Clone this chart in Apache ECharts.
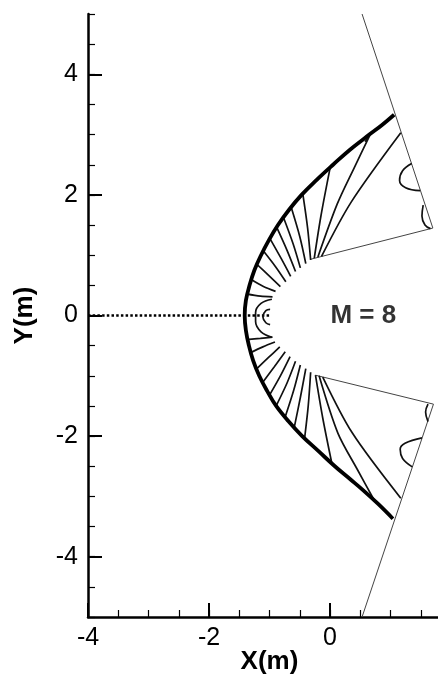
<!DOCTYPE html>
<html><head><meta charset="utf-8">
<script src="https://cdn.jsdelivr.net/npm/echarts@6/dist/echarts.min.js"></script>
<style>html,body{margin:0;padding:0;background:#fff}#c{width:438px;height:676px}</style>
</head><body><div id="c"></div>
<script>
// Axis ranges / ticks
const xRange = [-4, 2];
const yRange = [-5, 5];
const yMajorRange = [-4, 4];
const minorStep = 0.5;
const majorStep = 2;

// Stagnation line (dotted)
const stagnationLine = [[-4, 0], [-0.99, 0]];

// Bow shock (thick)
const shockFront = [[1.06,3.33],[0.86,3.16],[0.65,3.0],[0.33,2.75],[0.05,2.5],[-0.22,2.25],[-0.47,2.0],[-0.68,1.75],[-0.86,1.5],[-1.01,1.25],[-1.14,1.0],[-1.25,0.75],[-1.33,0.5],[-1.39,0.25],[-1.41,0],
  [-1.39,-0.25],[-1.34,-0.5],[-1.27,-0.75],[-1.17,-1.0],[-1.04,-1.25],[-0.89,-1.5],[-0.69,-1.75],[-0.46,-2.0],[-0.19,-2.25],[0.08,-2.5],[0.34,-2.72],[0.55,-2.9],[0.80,-3.13],[1.04,-3.37]];

// Thin domain boundaries
const coneUpper = [[-0.33,0.93],[1.70,1.45]];
const outflowUpper = [[0.53,5.0],[1.70,1.45]];
const coneLower = [[-0.24,-0.99],[1.71,-1.47]];
const outflowLower = [[1.71,-1.47],[0.53,-5.0]];

// Contour lines near the nose
const stagD = [[-0.99,0.10],[-1.06,0.08],[-1.11,-0.02],[-1.06,-0.12],[-0.99,-0.15]];
const stagC = [[-0.96,0.27],[-1.14,0.20],[-1.23,0.05],[-1.23,-0.10],[-1.14,-0.27],[-0.96,-0.36]];

// Upper contour lines (body -> shock)
const contoursUpper = [
  [[-0.95,0.31],[-1.15,0.32],[-1.38,0.36]],
  [[-0.90,0.40],[-1.10,0.48],[-1.31,0.60]],
  [[-0.82,0.48],[-1.01,0.66],[-1.21,0.85]],
  [[-0.73,0.56],[-0.90,0.81],[-1.10,1.07]],
  [[-0.65,0.65],[-0.81,0.95],[-0.99,1.27]],
  [[-0.57,0.73],[-0.71,1.08],[-0.88,1.46]],
  [[-0.49,0.79],[-0.61,1.19],[-0.77,1.63]],
  [[-0.40,0.86],[-0.50,1.31],[-0.64,1.79]],
  [[-0.32,0.92],[-0.37,1.45],[-0.45,2.02]],
  [[-0.26,0.95],[-0.15,1.65],[0.00,2.44]],
  [[-0.20,0.97],[0.12,1.85],[0.40,2.45],[0.66,2.99],[0.58,2.88]],
  [[-0.14,0.98],[0.35,1.88],[1.17,3.03]]
];
// Lower contour lines (body -> shock)
const contoursLower = [
  [[-0.95,-0.36],[-1.15,-0.38],[-1.38,-0.40]],
  [[-0.91,-0.44],[-1.11,-0.52],[-1.32,-0.62]],
  [[-0.83,-0.52],[-1.02,-0.70],[-1.23,-0.90]],
  [[-0.74,-0.60],[-0.92,-0.85],[-1.12,-1.12]],
  [[-0.66,-0.68],[-0.82,-1.00],[-1.00,-1.32]],
  [[-0.57,-0.76],[-0.71,-1.12],[-0.89,-1.50]],
  [[-0.49,-0.82],[-0.60,-1.24],[-0.74,-1.68]],
  [[-0.40,-0.88],[-0.49,-1.36],[-0.59,-1.85]],
  [[-0.32,-0.94],[-0.36,-1.50],[-0.42,-2.04]],
  [[-0.24,-0.99],[-0.12,-1.70],[0.03,-2.45]],
  [[-0.18,-1.00],[0.13,-1.95],[0.45,-2.55],[0.74,-3.08],[0.64,-2.98]],
  [[-0.12,-1.02],[0.37,-1.95],[1.17,-3.03]]
];
// Small contours near outflow boundary
const bumpUpper = [[1.49,2.07],[1.25,2.12],[1.15,2.24],[1.20,2.40],[1.35,2.52]];
const loopUpper = [[1.54,1.83],[1.52,1.65],[1.57,1.50],[1.66,1.44]];
const bumpLower = [[1.52,-2.03],[1.24,-2.12],[1.16,-2.22],[1.20,-2.37],[1.36,-2.51]];
const loopLower = [[1.62,-1.47],[1.58,-1.60],[1.62,-1.76]];

// Annotation
const annotation = [{ name: 'M = 8', value: [0.55, 0] }];

const FONT = 'Liberation Sans';
const chart = echarts.init(document.getElementById('c'), null, { renderer: 'canvas' });

function lineSeries(data, width, color, extra) {
  return Object.assign({
    type: 'line', xAxisIndex: 0, yAxisIndex: 0, data: data,
    showSymbol: false, symbol: 'none', silent: true, animation: false,
    lineStyle: { color: color, width: width }, z: 3
  }, extra || {});
}

const series = [];
series.push(lineSeries(stagnationLine, 2.5, '#000', { lineStyle: { color: '#000', width: 2.5, type: [2.5, 2.2] } }));
[coneUpper, outflowUpper, coneLower, outflowLower].forEach(d => series.push(lineSeries(d, 1, '#444')));
[stagD, stagC].forEach(d => series.push(lineSeries(d, 1.7, '#111', { smooth: 0.4 })));
contoursUpper.concat(contoursLower).forEach(d => series.push(lineSeries(d, 1.7, '#111', { smooth: 0.3 })));
[bumpUpper, loopUpper, bumpLower, loopLower].forEach(d => series.push(lineSeries(d, 1.7, '#111', { smooth: 0.4 })));
series.push(lineSeries(shockFront, 3.8, '#000', { smooth: 0.4, z: 4 }));
series.push({
  type: 'scatter', xAxisIndex: 0, yAxisIndex: 0, data: annotation, symbolSize: 0, silent: true,
  label: { show: true, position: 'inside', formatter: '{b}', color: '#000', fontSize: 26, fontWeight: 'bold', fontFamily: FONT }
});

const axisCommon = {
  type: 'value', splitLine: { show: false },
};

chart.setOption({
  animation: false,
  backgroundColor: '#fff',
  grid: [
    { left: 88, right: -13, top: 14, bottom: 59, outerBoundsMode: 'none', containLabel: false },
    { left: 88, right: -13, top: 74.3, bottom: 119.3, outerBoundsMode: 'none', containLabel: false }
  ],
  xAxis: [
    Object.assign({}, axisCommon, {
      gridIndex: 0, min: xRange[0], max: xRange[1], interval: minorStep, position: 'bottom',
      axisLine: { onZero: false, lineStyle: { color: '#000', width: 2.5 } },
      axisTick: { inside: true, length: 7, lineStyle: { color: '#000', width: 1.2 } },
      axisLabel: { show: false },
      name: 'X(m)', nameLocation: 'middle', nameGap: 32,
      nameTextStyle: { color: '#000', fontSize: 26, fontWeight: 'bold', fontFamily: FONT }
    }),
    Object.assign({}, axisCommon, {
      gridIndex: 0, min: xRange[0], max: xRange[1], interval: majorStep, position: 'bottom',
      axisLine: { show: false, onZero: false },
      axisTick: { inside: true, length: 14, lineStyle: { color: '#000', width: 2 } },
      axisLabel: { color: '#000', fontSize: 25, fontFamily: FONT, margin: 9, showMaxLabel: false }
    }),
    Object.assign({}, axisCommon, { gridIndex: 1, min: xRange[0], max: xRange[1], show: false })
  ],
  yAxis: [
    Object.assign({}, axisCommon, {
      gridIndex: 0, min: yRange[0], max: yRange[1], interval: minorStep, position: 'left',
      axisLine: { onZero: false, lineStyle: { color: '#000', width: 2.5 } },
      axisTick: { inside: true, length: 7, lineStyle: { color: '#000', width: 1.2 } },
      axisLabel: { show: false },
      name: 'Y(m)', nameLocation: 'middle', nameGap: 50, nameRotate: 90,
      nameTextStyle: { color: '#000', fontSize: 26, fontWeight: 'bold', fontFamily: FONT }
    }),
    Object.assign({}, axisCommon, {
      gridIndex: 1, min: yMajorRange[0], max: yMajorRange[1], interval: majorStep, position: 'left',
      axisLine: { show: false, onZero: false },
      axisTick: { inside: true, length: 14, lineStyle: { color: '#000', width: 2 } },
      axisLabel: { color: '#000', fontSize: 25, fontFamily: FONT, margin: 10 }
    })
  ],
  series: series
});
</script></body></html>
